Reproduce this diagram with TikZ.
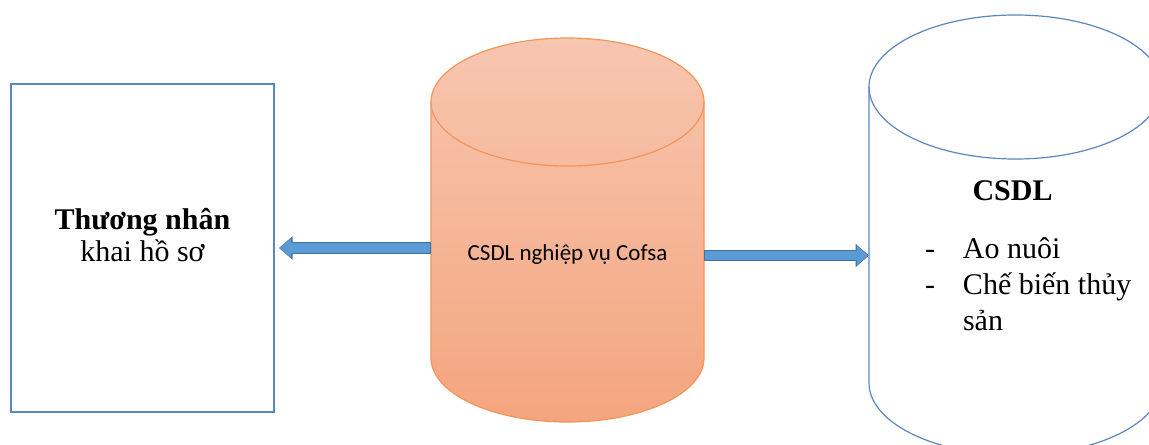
\documentclass[tikz,border=0pt]{standalone}
\usepackage{fontspec}
\setmainfont{Liberation Serif}
\newfontfamily\calibrifont{Carlito}
\usetikzlibrary{arrows.meta,positioning}

\definecolor{boxblue}{HTML}{5B86BE}
\definecolor{arrowfill}{HTML}{5B9BD5}
\definecolor{arrowline}{HTML}{41719C}
\definecolor{cyltop}{HTML}{F7C6B0}
\definecolor{cylbot}{HTML}{F4A57E}
\definecolor{cylline}{HTML}{F2955A}

\tikzset{
  holder/.style={inner sep=0pt, outer sep=0pt},
  arrowedge/.style={line width=5.75pt, arrowline, -{Triangle[width=11.25pt,length=6.75pt]}},
  arrowbody/.style={line width=4.75pt, arrowfill, shorten >=0.5pt, shorten <=0.5pt,
    -{Triangle[width=9.6pt,length=5.6pt]}},
  serif/.style={font=\fontsize{15}{16}\selectfont},
}

\begin{document}
\begin{tikzpicture}[x=0.5pt, y=-0.5pt]
  \useasboundingbox (0,0) rectangle (1149,444);
  \fill[white] (0,0) rectangle (1149,444);
  \clip (0,0) rectangle (1149,444);

  \node[holder, draw=boxblue, line width=0.65pt, minimum width=131.5pt, minimum height=164pt] (trader) at (142.5,248) {};
  \node[holder, minimum width=136.5pt, minimum height=192pt] (cofsa) at (567.5,230) {};
  \node[holder, minimum width=146.5pt, minimum height=220pt] (csdl) at (1015.5,235) {};

  \draw[cylline, line width=0.6pt, top color=cyltop, bottom color=cylbot]
    ([yshift=-32pt]cofsa.north west) -- ([yshift=32pt]cofsa.south west)
    arc[start angle=180, end angle=360, x radius=68.25pt, y radius=32pt]
    -- ([yshift=-32pt]cofsa.north east)
    arc[start angle=0, end angle=180, x radius=68.25pt, y radius=32pt] -- cycle;
  \draw[cylline, line width=0.6pt] ([yshift=-32pt]cofsa.north west)
    arc[start angle=180, end angle=360, x radius=68.25pt, y radius=32pt];

  \draw[boxblue, line width=0.6pt, fill=white]
    ([yshift=-36pt]csdl.north west) -- ([yshift=36pt]csdl.south west)
    arc[start angle=180, end angle=360, x radius=73.25pt, y radius=36pt]
    -- ([yshift=-36pt]csdl.north east)
    arc[start angle=0, end angle=180, x radius=73.25pt, y radius=36pt] -- cycle;
  \draw[boxblue, line width=0.6pt] ([yshift=-36pt]csdl.north west)
    arc[start angle=180, end angle=360, x radius=73.25pt, y radius=36pt];

  \node[serif, align=center, anchor=base] (tradertext) at (142.5,261) {\textbf{Thương nhân}\\khai hồ sơ};
  \node[font=\calibrifont\fontsize{11.5}{14}\selectfont, anchor=base] (cofsatext) at (567.5,260) {CSDL nghiệp vụ Cofsa};
  \node[serif, anchor=base] (csdltitle) at (1012.5,200) {\textbf{CSDL}};
  \node[font=\fontsize{15}{18}\selectfont, holder, anchor=base west] (csdllist) at (925,258)
    {\begin{tabular}[t]{@{}p{19pt}@{}l@{}}
      - & Ao nuôi\\
      - & Chế biến thủy\\
        & sản
    \end{tabular}};

  \draw[arrowedge] (cofsa.west |- trader.east) -- ([xshift=2.5pt]trader.east);
  \draw[arrowbody] (cofsa.west |- trader.east) -- ([xshift=2.5pt]trader.east);
  \draw[arrowedge] ([yshift=-12.75pt]cofsa.east) -- ([yshift=-10.25pt]csdl.west);
  \draw[arrowbody] ([yshift=-12.75pt]cofsa.east) -- ([yshift=-10.25pt]csdl.west);
\end{tikzpicture}
\end{document}
